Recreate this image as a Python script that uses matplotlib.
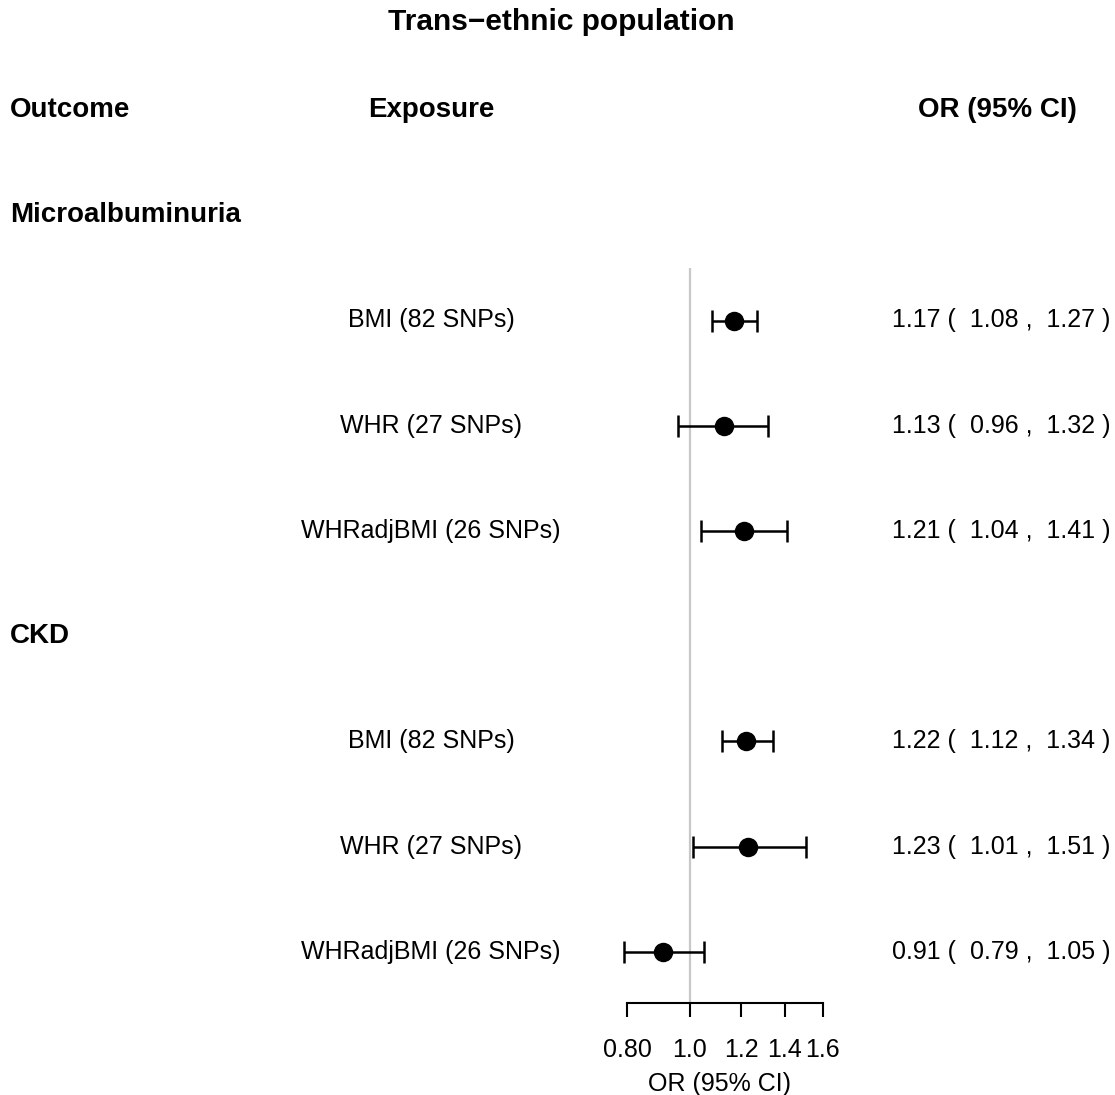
import matplotlib
matplotlib.use("Agg")
import matplotlib.pyplot as plt
import matplotlib.transforms as mtransforms
from matplotlib.ticker import FixedLocator, NullLocator
import numpy as np

plt.rcParams["font.family"] = ["Liberation Sans", "DejaVu Sans"]

outcomes = ["Microalbuminuria", "CKD"]
exposures = ["BMI (82 SNPs)", "WHR (27 SNPs)", "WHRadjBMI (26 SNPs)"]
or_vals = [[1.17, 1.13, 1.21], [1.22, 1.23, 0.91]]
lower = [[1.08, 0.96, 1.04], [1.12, 1.01, 0.79]]
upper = [[1.27, 1.32, 1.41], [1.34, 1.51, 1.05]]
tick_vals = [0.80, 1.0, 1.2, 1.4, 1.6]
tick_labels = ["0.80", "1.0", "1.2", "1.4", "1.6"]

W, H = 1115, 1095
fig = plt.figure(figsize=(W / 100, H / 100), dpi=100)

# forest panel: log x, rows on y (row 0 = header)
ax_left, ax_right, ax_bottom = 600, 840, 1003
row0_px, row_step = 110, 105.25
ax = fig.add_axes([ax_left / W, (H - ax_bottom) / H, (ax_right - ax_left) / W, ax_bottom / H])
ax.set_xscale("log")
px_per_unit = 282.0
x_one = 690
ax.set_xlim(np.exp((ax_left - x_one) / px_per_unit), np.exp((ax_right - x_one) / px_per_unit))
y_bottom = (ax_bottom - row0_px) / row_step
ax.set_ylim(y_bottom, -row0_px / row_step)

rows, ors, los, his = [], [], [], []
outcome_rows = []
r = 1
for i, oc in enumerate(outcomes):
    outcome_rows.append(r)
    r += 1
    for j in range(len(exposures)):
        rows.append(r)
        ors.append(or_vals[i][j])
        los.append(lower[i][j])
        his.append(upper[i][j])
        r += 1
rows = np.array(rows)
ors, los, his = np.array(ors), np.array(los), np.array(his)

ax.vlines(1.0, 1.5, y_bottom, color="#c8c8c8", lw=1.6, zorder=1)
ax.errorbar(ors, rows, xerr=[ors - los, his - ors], fmt="o", color="black",
            ms=13, capsize=8, elinewidth=1.8, capthick=1.8, zorder=3)

for s in ["top", "right", "left"]:
    ax.spines[s].set_visible(False)
ax.spines["bottom"].set_bounds(tick_vals[0], tick_vals[-1])
ax.spines["bottom"].set_linewidth(1.5)
ax.xaxis.set_major_locator(FixedLocator(tick_vals))
ax.xaxis.set_minor_locator(NullLocator())
ax.set_xticklabels(tick_labels)
ax.tick_params(axis="x", length=10, width=1.5, pad=15.5, labelsize=18)
ax.set_yticks([])
ax.set_xlabel("OR (95% CI)", fontsize=18, labelpad=7)
ax.patch.set_alpha(0)

# text columns
tr = mtransforms.blended_transform_factory(fig.transFigure, ax.transData)
x_out, x_exp, x_or = 10 / W, 431 / W, 1001 / W

fig.text(561 / W, 1 - 22 / H, "Trans\u2212ethnic population", ha="center", va="center",
         fontsize=21.5, fontweight="bold")
fig.text(x_out, 0, "Outcome", transform=tr, ha="left", va="center", fontsize=20, fontweight="bold")
fig.text(431 / W, 0, "Exposure", transform=tr, ha="center", va="center", fontsize=20, fontweight="bold")
fig.text(997 / W, 0, "OR (95% CI)", transform=tr, ha="center", va="center", fontsize=20, fontweight="bold")

for oc, orow in zip(outcomes, outcome_rows):
    fig.text(x_out, orow, oc, transform=tr, ha="left", va="center", fontsize=20, fontweight="bold")

k = 0
for i in range(len(outcomes)):
    for j, ex in enumerate(exposures):
        fig.text(x_exp, rows[k], ex, transform=tr, ha="center", va="center", fontsize=18)
        label = f"{ors[k]:.2f} (  {los[k]:.2f} ,  {his[k]:.2f} )"
        fig.text(x_or, rows[k], label, transform=tr, ha="center", va="center", fontsize=18)
        k += 1

fig.savefig("out.png", dpi=100)
